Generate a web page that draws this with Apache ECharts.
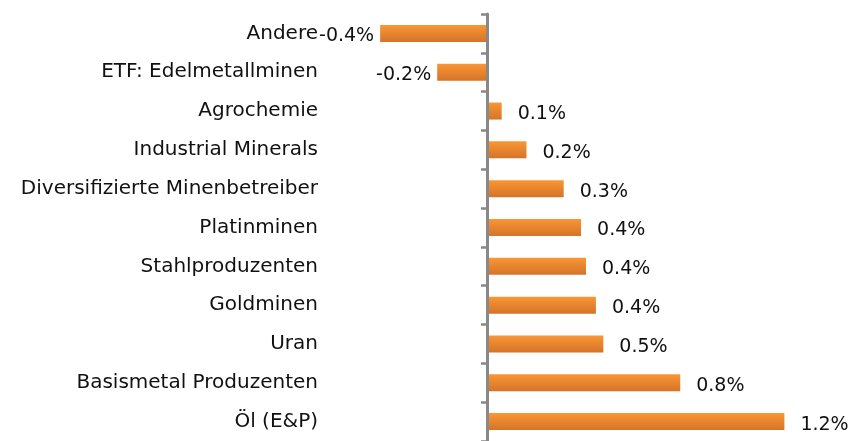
<!DOCTYPE html>
<html>
<head>
<meta charset="utf-8">
<script src="https://cdn.jsdelivr.net/npm/echarts@6/dist/echarts.min.js"></script>
<style>
  html, body { margin: 0; padding: 0; background: #fff; }
  #chart { width: 854px; height: 441px; }
</style>
</head>
<body>
<div id="chart"></div>
<script>
// sectors, top to bottom
const categories = [
  'Andere', 'ETF: Edelmetallminen', 'Agrochemie', 'Industrial Minerals',
  'Diversifizierte Minenbetreiber', 'Platinminen', 'Stahlproduzenten',
  'Goldminen', 'Uran', 'Basismetal Produzenten', 'Öl (E&P)'
];
// weight change in percent
const values = [-0.43, -0.2, 0.06, 0.16, 0.31, 0.38, 0.4, 0.44, 0.47, 0.78, 1.2];

const font = '"DejaVu Sans", sans-serif';
const gridLeft = 338;
const zeroX = 487;

const chart = echarts.init(document.getElementById('chart'));

const barData = values.map(v => ({
  value: v,
  label: v < 0
    ? { position: 'left', distance: 6 }
    : { position: 'right', distance: 16 }
}));

chart.setOption({
  animation: false,
  grid: { left: gridLeft, right: 20, top: 14, height: 434.5 },
  xAxis: {
    type: 'value', min: -0.6, max: 1.4,
    axisLine: { show: false }, axisTick: { show: false },
    axisLabel: { show: false }, splitLine: { show: false }
  },
  yAxis: [
    {
      type: 'category', data: categories, inverse: true, position: 'left',
      axisLine: { show: false, onZero: false }, axisTick: { show: false },
      axisLabel: { margin: 20, color: '#111', fontFamily: font, fontSize: 20, padding: [4, 0, 0, 0] }
    },
    {
      // the visible axis, sitting on x = 0
      type: 'category', data: categories, inverse: true, position: 'left',
      offset: gridLeft - zeroX, z: 5,
      axisLine: { onZero: false, lineStyle: { color: '#888888', width: 3 } },
      axisTick: { show: true, inside: false, length: 6, lineStyle: { color: '#888888', width: 2.5 } },
      axisLabel: { show: false }
    }
  ],
  series: [{
    type: 'bar',
    yAxisIndex: 0,
    data: barData,
    barWidth: 17,
    itemStyle: {
      color: new echarts.graphic.LinearGradient(0, 0, 0, 1, [
        { offset: 0, color: '#fa9633' },
        { offset: 1, color: '#d4742a' }
      ])
    },
    label: {
      show: true, color: '#111', fontFamily: font, fontSize: 19, offset: [0, 3],
      formatter: p => p.value.toFixed(1) + '%'
    }
  }]
});
</script>
</body>
</html>
